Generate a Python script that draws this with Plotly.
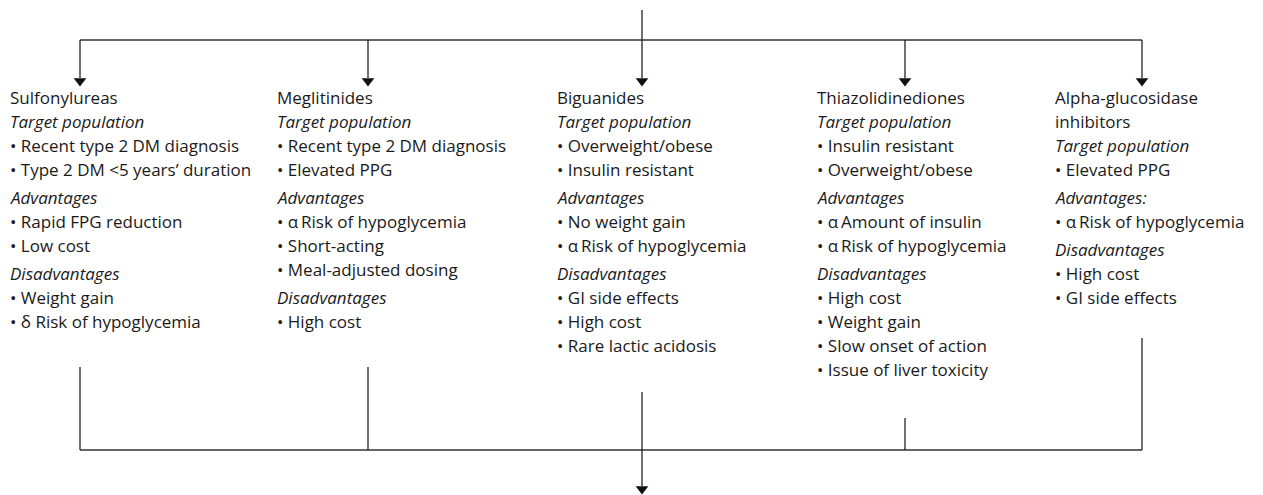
import plotly.graph_objects as go

# ---- data ----
drug_classes = ["Sulfonylureas", "Meglitinides", "Biguanides", "Thiazolidinediones",
                "Alpha-glucosidase<br>inhibitors"]
target_population = [
    ["Recent type 2 DM diagnosis", "Type 2 DM <5 years\u2019 duration"],
    ["Recent type 2 DM diagnosis", "Elevated PPG"],
    ["Overweight/obese", "Insulin resistant"],
    ["Insulin resistant", "Overweight/obese"],
    ["Elevated PPG"],
]
advantages = [
    ["Rapid FPG reduction", "Low cost"],
    ["\u03b1\u2009Risk of hypoglycemia", "Short-acting", "Meal-adjusted dosing"],
    ["No weight gain", "\u03b1\u2009Risk of hypoglycemia"],
    ["\u03b1\u2009Amount of insulin", "\u03b1\u2009Risk of hypoglycemia"],
    ["\u03b1\u2009Risk of hypoglycemia"],
]
adv_labels = ["Advantages", "Advantages", "Advantages", "Advantages", "Advantages:"]
disadvantages = [
    ["Weight gain", "\u03b4 Risk of hypoglycemia"],
    ["High cost"],
    ["GI side effects", "High cost", "Rare lactic acidosis"],
    ["High cost", "Weight gain", "Slow onset of action", "Issue of liver toxicity"],
    ["High cost", "GI side effects"],
]

# ---- layout (positions / styles) ----
W, H = 1263, 495
text_x = [8, 275, 555, 815, 1053]
node_x = [80, 368, 642, 905, 1142]
bottom_start = [367, 367, 392, 418, 338]
top_y, split_y, arrow_tip = 10, 40, 86
merge_y, final_tip = 450, 494
LINE_H, GAP = 24, 4
FONT = dict(family="Open Sans", size=17, color="#1a1a1a")

fig = go.Figure()
shapes = []
annotations = []

def line(x0, y0, x1, y1, width=1.2, color="#111"):
    shapes.append(dict(type="line", xref="x", yref="y", x0=x0, y0=y0, x1=x1, y1=y1,
                       line=dict(color=color, width=width)))

# top connector
line(node_x[2], top_y, node_x[2], split_y)
line(node_x[0], split_y, node_x[-1], split_y, width=1.6, color="#333")
for x in node_x:
    line(x, split_y, x, arrow_tip - 8)

# bottom connector
line(node_x[0], merge_y, node_x[-1], merge_y, width=1.6, color="#333")
for x, ys in zip(node_x, bottom_start):
    if x == node_x[2]:
        line(x, ys, x, final_tip - 8)
    else:
        line(x, ys, x, merge_y)

# arrowheads
fig.add_trace(go.Scatter(
    x=node_x + [node_x[2]],
    y=[arrow_tip - 5] * len(node_x) + [final_tip - 5],
    mode="markers",
    marker=dict(symbol="triangle-down", size=11, color="#111", line=dict(width=0)),
    hoverinfo="skip", showlegend=False))

def text(x, y, s):
    annotations.append(dict(x=x, y=y, xref="x", yref="y", text=s, showarrow=False,
                            xanchor="left", yanchor="middle", font=FONT))

for i in range(len(drug_classes)):
    x = text_x[i]
    y = 97
    for part in drug_classes[i].split("<br>"):
        text(x, y, part)
        y += LINE_H
    text(x, y, "<i>Target population</i>")
    y += LINE_H
    for b in target_population[i]:
        text(x, y, "\u2022 " + b)
        y += LINE_H
    y += GAP
    text(x, y, "<i>" + adv_labels[i] + "</i>")
    y += LINE_H
    for b in advantages[i]:
        text(x, y, "\u2022 " + b)
        y += LINE_H
    y += GAP
    text(x, y, "<i>Disadvantages</i>")
    y += LINE_H
    for b in disadvantages[i]:
        text(x, y, "\u2022 " + b)
        y += LINE_H

fig.update_layout(
    width=W, height=H,
    margin=dict(l=0, r=0, t=0, b=0),
    paper_bgcolor="white", plot_bgcolor="white",
    xaxis=dict(range=[0, W], visible=False, fixedrange=True),
    yaxis=dict(range=[H, 0], visible=False, fixedrange=True),
    shapes=shapes, annotations=annotations,
)
fig.write_html(
    "out.html",
    config=dict(displayModeBar=False),
    post_script="document.body.style.margin='0';document.body.style.overflow='hidden';",
)
